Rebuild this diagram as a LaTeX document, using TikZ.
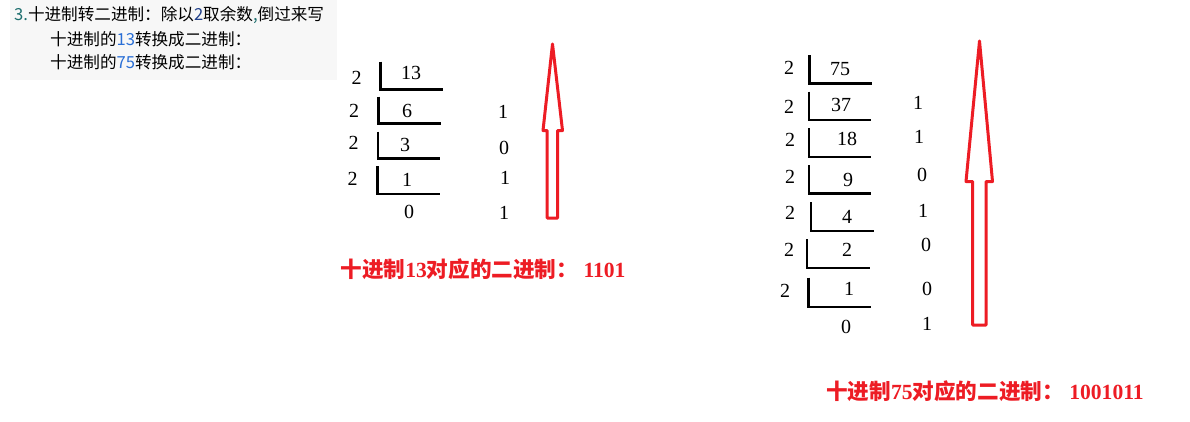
\documentclass[tikz,border=0pt]{standalone}
\usepackage{fontspec}
\setmainfont{Liberation Serif}
\newfontfamily\cjk{Noto Sans CJK SC}
\usetikzlibrary{positioning}

\definecolor{notebg}{HTML}{F7F7F7}
\definecolor{noteteal}{HTML}{1D6E6E}
\definecolor{notenavy}{HTML}{20408A}
\definecolor{noteblue}{HTML}{2A6FD6}
\definecolor{paintred}{HTML}{ED1C24}

\begin{document}
\begin{tikzpicture}[
  x=1pt, y=-1pt,
  % Define text styles
  digit/.style={
    inner sep=0pt,
    font=\fontsize{20}{20}\selectfont
  },
  notetext/.style={
    anchor=west,
    inner sep=0pt,
    font=\cjk\fontsize{16.6}{16.6}\selectfont
  },
  resulttext/.style={
    inner sep=0pt,
    text=paintred,
    font=\fontsize{21.6}{21.6}\selectfont\bfseries
  },
  % Division bracket and arrow styles
  bracket/.style={
    line width=2.6pt
  },
  bigarrow/.style={
    draw=paintred,
    line width=3pt,
    fill=white,
    line join=round
  }
]

\useasboundingbox (0,0) rectangle (1190,421);

% -----------------------------------------------
% NOTE BLOCK (TOP LEFT)
% -----------------------------------------------
\fill[notebg] (10,0) rectangle (337,80);
\node[notetext] (noteTitle) at (14,15)
  {\textcolor{noteteal}{3.}十进制转二进制：除以\textcolor{notenavy}{2}取余数\textcolor{noteteal}{,}倒过来写};
\node[notetext] (noteA) at (50,39)
  {十进制的\textcolor{noteblue}{13}转换成二进制：};
\node[notetext] (noteB) at (50,62)
  {十进制的\textcolor{noteblue}{75}转换成二进制：};

% -----------------------------------------------
% DIVISION OF 13
% -----------------------------------------------
\node[digit] (divA1) at (356.5,78) {2};
\node[digit] (divA2) at (354,111) {2};
\node[digit] (divA3) at (353.5,143) {2};
\node[digit] (divA4) at (352.5,179) {2};

\node[digit] (quoA1) at (411,73) {13};
\node[digit] (quoA2) at (407,111) {6};
\node[digit] (quoA3) at (405,145) {3};
\node[digit] (quoA4) at (407,180) {1};
\node[digit] (quoA5) at (409,212) {0};

\node[digit] (remA1) at (503,112) {1};
\node[digit] (remA2) at (504,147.5) {0};
\node[digit] (remA3) at (505,177.5) {1};
\node[digit] (remA4) at (504,212.5) {1};

\draw[bracket] (380.5,61.5) |- (442.5,89.5);
\draw[bracket] (378.5,96.5) |- (440.5,123.5);
\draw[bracket] (378,131.5) |- (440,158.5);
\draw[bracket] (377.5,166) |- (439.5,194);

% up arrow (read remainders from bottom to top)
\draw[bigarrow] (552.5,44) -- (562.5,130.5) -- (557.5,130.5) -- (557.5,218)
  -- (547,218) -- (547,130.5) -- (543,130.5) -- cycle;

\node[resulttext] (resultA) at (483,269)
  {{\cjk 十进制}13{\cjk 对应的二进制：}\ 1101};

% -----------------------------------------------
% DIVISION OF 75
% -----------------------------------------------
\node[digit] (divB1) at (789,68) {2};
\node[digit] (divB2) at (789,107) {2};
\node[digit] (divB3) at (790,140) {2};
\node[digit] (divB4) at (790,177) {2};
\node[digit] (divB5) at (790,213) {2};
\node[digit] (divB6) at (789,250) {2};
\node[digit] (divB7) at (785,291) {2};

\node[digit] (quoB1) at (840,69) {75};
\node[digit] (quoB2) at (841,105) {37};
\node[digit] (quoB3) at (847,139) {18};
\node[digit] (quoB4) at (848,180) {9};
\node[digit] (quoB5) at (847,217) {4};
\node[digit] (quoB6) at (847,249.5) {2};
\node[digit] (quoB7) at (849,288.5) {1};
\node[digit] (quoB8) at (846,327) {0};

\node[digit] (remB1) at (918,103) {1};
\node[digit] (remB2) at (919,137) {1};
\node[digit] (remB3) at (922,175) {0};
\node[digit] (remB4) at (923,211) {1};
\node[digit] (remB5) at (926,245) {0};
\node[digit] (remB6) at (927,288.5) {0};
\node[digit] (remB7) at (927,323.5) {1};

\draw[bracket] (809.5,55) |- (872,83.5);
\draw[bracket] (809,91.5) |- (871,120);
\draw[bracket] (809,128) |- (871,157);
\draw[bracket] (809,165) |- (871,193.5);
\draw[bracket] (811,202) |- (874,231);
\draw[bracket] (807,239) |- (870,268);
\draw[bracket] (808.5,277.5) |- (871,307);

% up arrow (read remainders from bottom to top)
\draw[bigarrow] (979.5,41) -- (992.5,181.5) -- (986,181.5) -- (986,325)
  -- (972.5,325) -- (972.5,181.5) -- (966,181.5) -- cycle;

\node[resulttext] (resultB) at (985,391)
  {{\cjk 十进制}75{\cjk 对应的二进制：}\ 1001011};

\end{tikzpicture}
\end{document}
